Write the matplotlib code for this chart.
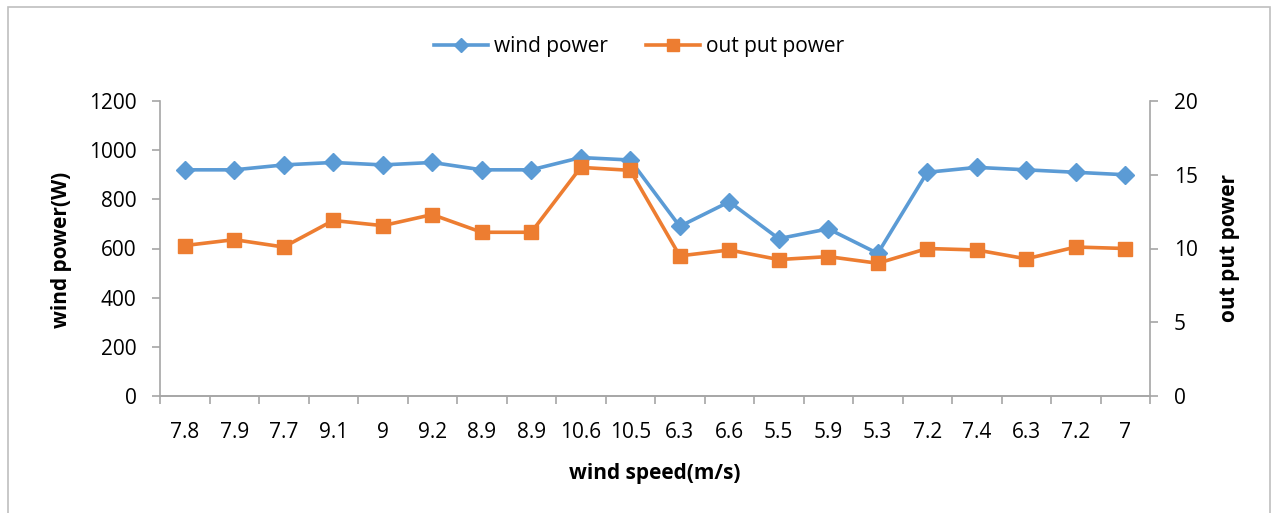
import matplotlib.pyplot as plt
from matplotlib.patches import Rectangle
import numpy as np

plt.rcParams['font.family'] = ['Open Sans', 'DejaVu Sans']

speeds = ["7.8", "7.9", "7.7", "9.1", "9", "9.2", "8.9", "8.9", "10.6", "10.5",
          "6.3", "6.6", "5.5", "5.9", "5.3", "7.2", "7.4", "6.3", "7.2", "7"]
wind_power = [920, 920, 940, 950, 940, 950, 920, 920, 970, 960,
              690, 790, 640, 680, 580, 910, 930, 920, 910, 900]
output_power = [10.2, 10.6, 10.1, 11.9, 11.55, 12.3, 11.1, 11.1, 15.5, 15.3,
                9.5, 9.9, 9.25, 9.45, 9.0, 10.0, 9.9, 9.3, 10.1, 10.0]

blue = "#5B9BD5"
orange = "#ED7D31"
gray = "#A6A6A6"
W, H = 1278, 513

fig = plt.figure(figsize=(W / 100, H / 100), dpi=100)
fig.patches.append(Rectangle((8 / W, -0.01), 1262 / W, 1 - 7 / H + 0.01,
                             transform=fig.transFigure, fill=False,
                             edgecolor="#BFBFBF", lw=1.2))
ax1 = fig.add_axes([160 / W, 1 - 396 / H, 990 / W, 295 / H])
ax2 = ax1.twinx()

x = np.arange(len(speeds))
l1, = ax1.plot(x, wind_power, color=blue, lw=2.6, marker="D", ms=9,
               label="wind power")
l2, = ax2.plot(x, output_power, color=orange, lw=2.6, marker="s", ms=10,
               label="out put power")

ax1.set_xlim(-0.5, len(speeds) - 0.5)
ax1.set_ylim(0, 1200)
ax1.set_yticks(range(0, 1201, 200))
ax2.set_ylim(0, 20)
ax2.set_yticks(range(0, 21, 5))

# ticks sit on the category boundaries, labels in the middle
ax1.set_xticks(np.arange(-0.5, len(speeds), 1.0))
ax1.set_xticklabels([])
ax1.set_xticks(x, minor=True)
ax1.set_xticklabels(speeds, minor=True)
ax1.tick_params(axis="x", which="major", length=6, color=gray, width=1.2)
ax1.tick_params(axis="x", which="minor", length=0, labelsize=15, pad=19)
ax1.tick_params(axis="y", length=6, color=gray, width=1.2, labelsize=15, pad=11)
ax2.tick_params(axis="y", length=6, color=gray, width=1.2, labelsize=15, pad=11)

for ax in (ax1, ax2):
    ax.spines["top"].set_visible(False)
    for s in ("left", "right", "bottom"):
        ax.spines[s].set_color(gray)
        ax.spines[s].set_linewidth(1.2)
ax1.spines["right"].set_visible(False)
ax2.spines["left"].set_visible(False)

fig.text(62 / W, 1 - 250 / H, "wind power(W)", rotation=90, fontsize=15,
         fontweight="bold", ha="center", va="center")
fig.text(1229 / W, 1 - 248 / H, "out put power", rotation=90, fontsize=15,
         fontweight="bold", ha="center", va="center")
fig.text(655 / W, 1 - 474 / H, "wind speed(m/s)", fontsize=15,
         fontweight="bold", ha="center", va="center")

fig.legend(handles=[l1, l2], loc="center", bbox_to_anchor=(0.5, 1 - 47 / H),
           ncol=2, frameon=False, fontsize=15, handlelength=2.6, columnspacing=1.8,
           handletextpad=0.3, markerscale=0.8)

fig.savefig("out.png", dpi=100)
